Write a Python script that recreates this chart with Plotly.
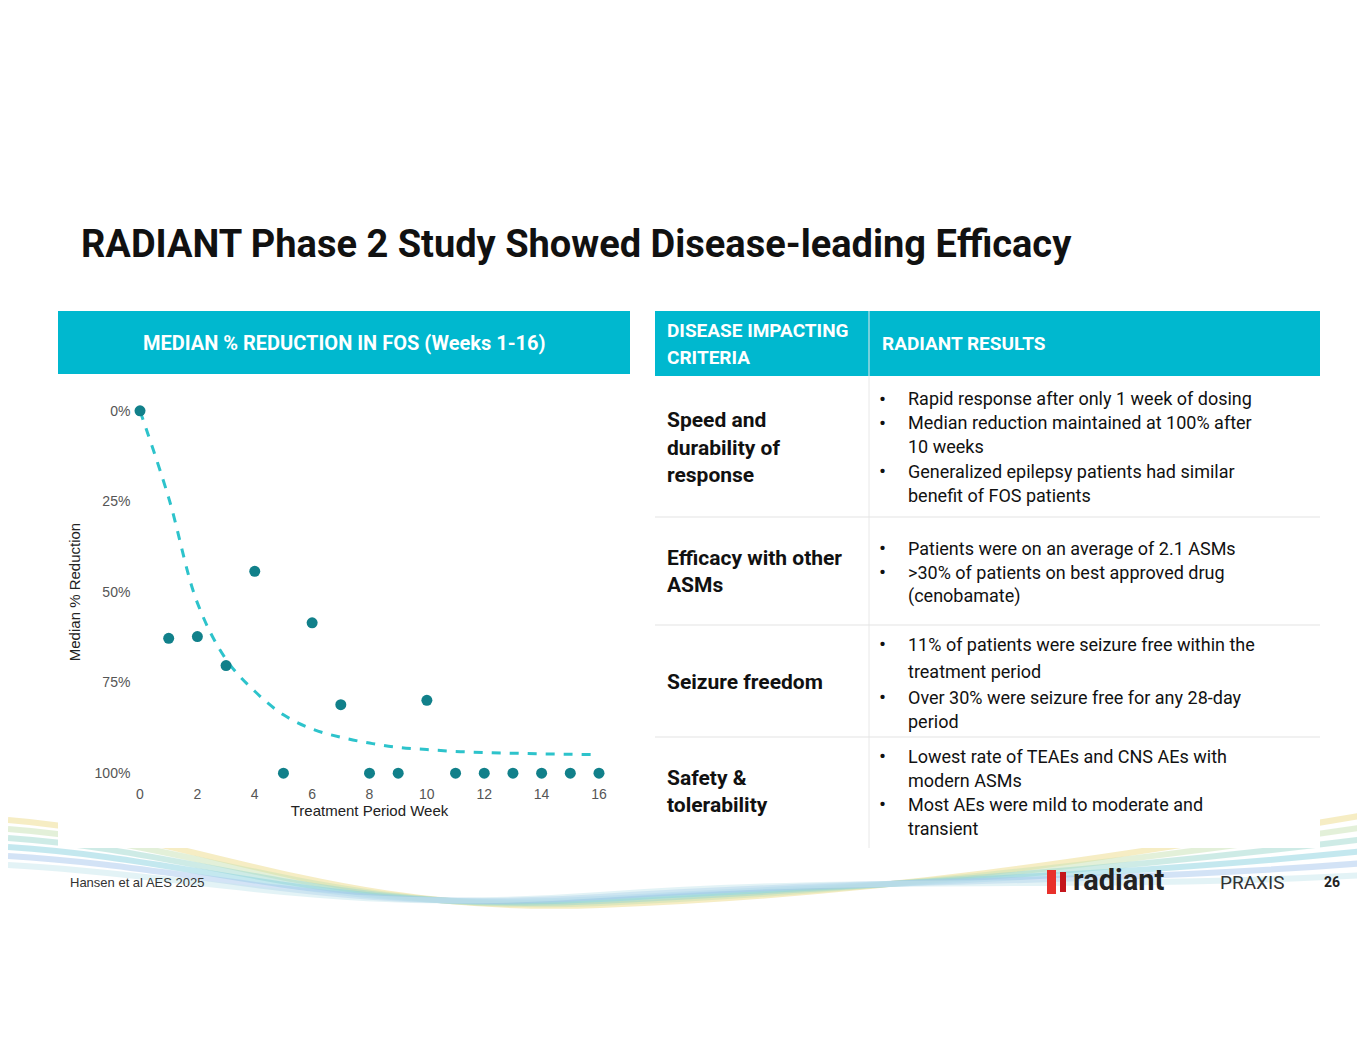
import plotly.graph_objects as go

W, H = 1365, 1055
OFF = 8  # page body margin of the browser

weeks = list(range(17))
median_reduction = [0, 62.8, 62.3, 70.3, 44.3, 100, 58.5, 81.1, 100, 100, 79.9, 100, 100, 100, 100, 100, 100]
fit_curve = [0, 24, 53, 68.6, 77.4, 83.9, 87.8, 90.1, 91.7, 92.9, 93.5, 94, 94.3, 94.5, 94.7, 94.8, 94.9]
x_ticks = [0, 2, 4, 6, 8, 10, 12, 14, 16]
y_ticks = [0, 25, 50, 75, 100]
y_tick_labels = ["0%", "25%", "50%", "75%", "100%"]

criteria = [["Speed and", "durability of", "response"],
            ["Efficacy with other", "ASMs"],
            ["Seizure freedom"],
            ["Safety &", "tolerability"]]
results = [[["Rapid response after only 1 week of dosing"],
            ["Median reduction maintained at 100% after", "10 weeks"],
            ["Generalized epilepsy patients had similar", "benefit of FOS patients"]],
           [["Patients were on an average of 2.1 ASMs"],
            [">30% of patients on best approved drug", "(cenobamate)"]],
           [["11% of patients were seizure free within the", "treatment period"],
            ["Over 30% were seizure free for any 28-day", "period"]],
           [["Lowest rate of TEAEs and CNS AEs with", "modern ASMs"],
            ["Most AEs were mild to moderate and", "transient"]]]

TEAL = "#00B8CF"
DOT = "#11808A"
FIT = "#2DC3CB"


def px(x):
    return (x - OFF) / W


def py(y):
    return 1 - (y - OFF) / H


fig = go.Figure()
fig.add_trace(go.Scatter(x=weeks, y=fit_curve, mode="lines", line=dict(color=FIT, width=3, dash="dash"),
                         line_shape="spline", hoverinfo="skip"))
fig.add_trace(go.Scatter(x=weeks, y=median_reduction, mode="markers", marker=dict(color=DOT, size=11)))

fig.update_xaxes(range=[-0.3, 16.3], domain=[px(131.4), px(607.6)], tickvals=x_ticks, showgrid=False,
                 zeroline=False, showline=False, ticks="", tickfont=dict(family="Arial", size=14, color="#555"),
                 title=dict(text="Treatment Period Week", font=dict(family="Arial", size=15, color="#222"), standoff=0))
fig.update_yaxes(range=[103, -3], domain=[py(784), py(400)], tickvals=y_ticks, ticktext=y_tick_labels,
                 showgrid=False, zeroline=False, showline=False, ticks="",
                 tickfont=dict(family="Arial", size=14, color="#555"),
                 title=dict(text="Median % Reduction", font=dict(family="Arial", size=15, color="#222"), standoff=10))

shapes = []
ann = []


def rect(x0, y0, x1, y1, color, **kw):
    shapes.append(dict(type="rect", xref="paper", yref="paper", x0=px(x0), x1=px(x1), y0=py(y1), y1=py(y0),
                       fillcolor=color, line=dict(width=0), layer="below", **kw))


def text(x, y, s, size=18, color="#111", bold=False, anchor="left", family="Roboto"):
    if bold:
        s = "<b>" + s + "</b>"
    ann.append(dict(xref="paper", yref="paper", x=px(x), y=py(y), text=s, showarrow=False, xanchor=anchor,
                    yanchor="middle", font=dict(family=family, size=size, color=color)))


# decorative waves at the bottom
for i, c in enumerate(["#EEDC8A", "#C9E3B5", "#9FD9CF", "#8BD3E0", "#A9C8EE", "#C9E8EE"]):
    shapes.append(dict(type="path", xref="paper", yref="paper", layer="below",
                       path=f"M {px(8)} {py(820 + i * 9)} C {px(200)} {py(835 + i * 8)}, {px(330)} {py(915)}, "
                            f"{px(600)} {py(905 - i * 2)} S {px(1100)} {py(860 + i * 6)}, {px(1365)} {py(815 + i * 12)}",
                       line=dict(color=c, width=6), opacity=0.5))
rect(58, 376, 630, 848, "white")
rect(655, 376, 1320, 848, "white")

# headers
rect(58, 311, 630, 374, TEAL)
text(344, 343, "MEDIAN % REDUCTION IN FOS (Weeks 1-16)", size=20, color="white", bold=True, anchor="center")
rect(655, 311, 1320, 376, TEAL)
text(665, 330, "DISEASE IMPACTING", size=19, color="white", bold=True)
text(665, 357, "CRITERIA", size=19, color="white", bold=True)
text(880, 344, "RADIANT RESULTS", size=19, color="white", bold=True)
shapes.append(dict(type="line", xref="paper", yref="paper", x0=px(869), x1=px(869), y0=py(311), y1=py(848),
                   line=dict(color="#E8E8E8", width=1)))
for yl in [517, 625, 737]:
    shapes.append(dict(type="line", xref="paper", yref="paper", x0=px(655), x1=px(1320), y0=py(yl), y1=py(yl),
                       line=dict(color="#E3E3E3", width=1)))

crit_y = [[420, 448, 475], [558, 585], [682], [778, 805]]
res_y = [[[399], [423, 447], [471, 495]], [[548], [572, 596]], [[644, 671], [697, 721]],
         [[756, 780], [804, 828]]]
for r in range(4):
    for line, y in zip(criteria[r], crit_y[r]):
        text(665, y, line, size=21, bold=True)
    for bullet, ys in zip(results[r], res_y[r]):
        text(877, ys[0], "•", size=21)
        for line, y in zip(bullet, ys):
            text(906, y, line, size=18)

# title and footer
text(79, 244, "RADIANT Phase 2 Study Showed Disease-leading Efficacy", size=38, bold=True)
text(68, 882, "Hansen et al AES 2025", size=13, color="#333", family="Arial")
shapes.append(dict(type="rect", xref="paper", yref="paper", x0=px(1047), x1=px(1056), y0=py(894), y1=py(870),
                   fillcolor="#E8312B", line=dict(width=0)))
shapes.append(dict(type="rect", xref="paper", yref="paper", x0=px(1060), x1=px(1066), y0=py(892), y1=py(872),
                   fillcolor="#C4161C", line=dict(width=0)))
text(1071, 880, "radiant", size=29, color="#222", bold=True)
text(1218, 882, "PRAXIS", size=19, color="#333")
text(1322, 882, "26", size=14, color="#222", bold=True)

fig.update_layout(width=W, height=H, margin=dict(l=0, r=0, t=0, b=0), paper_bgcolor="white",
                  plot_bgcolor="rgba(0,0,0,0)", showlegend=False, shapes=shapes, annotations=ann)
fig.write_html("out.html")
